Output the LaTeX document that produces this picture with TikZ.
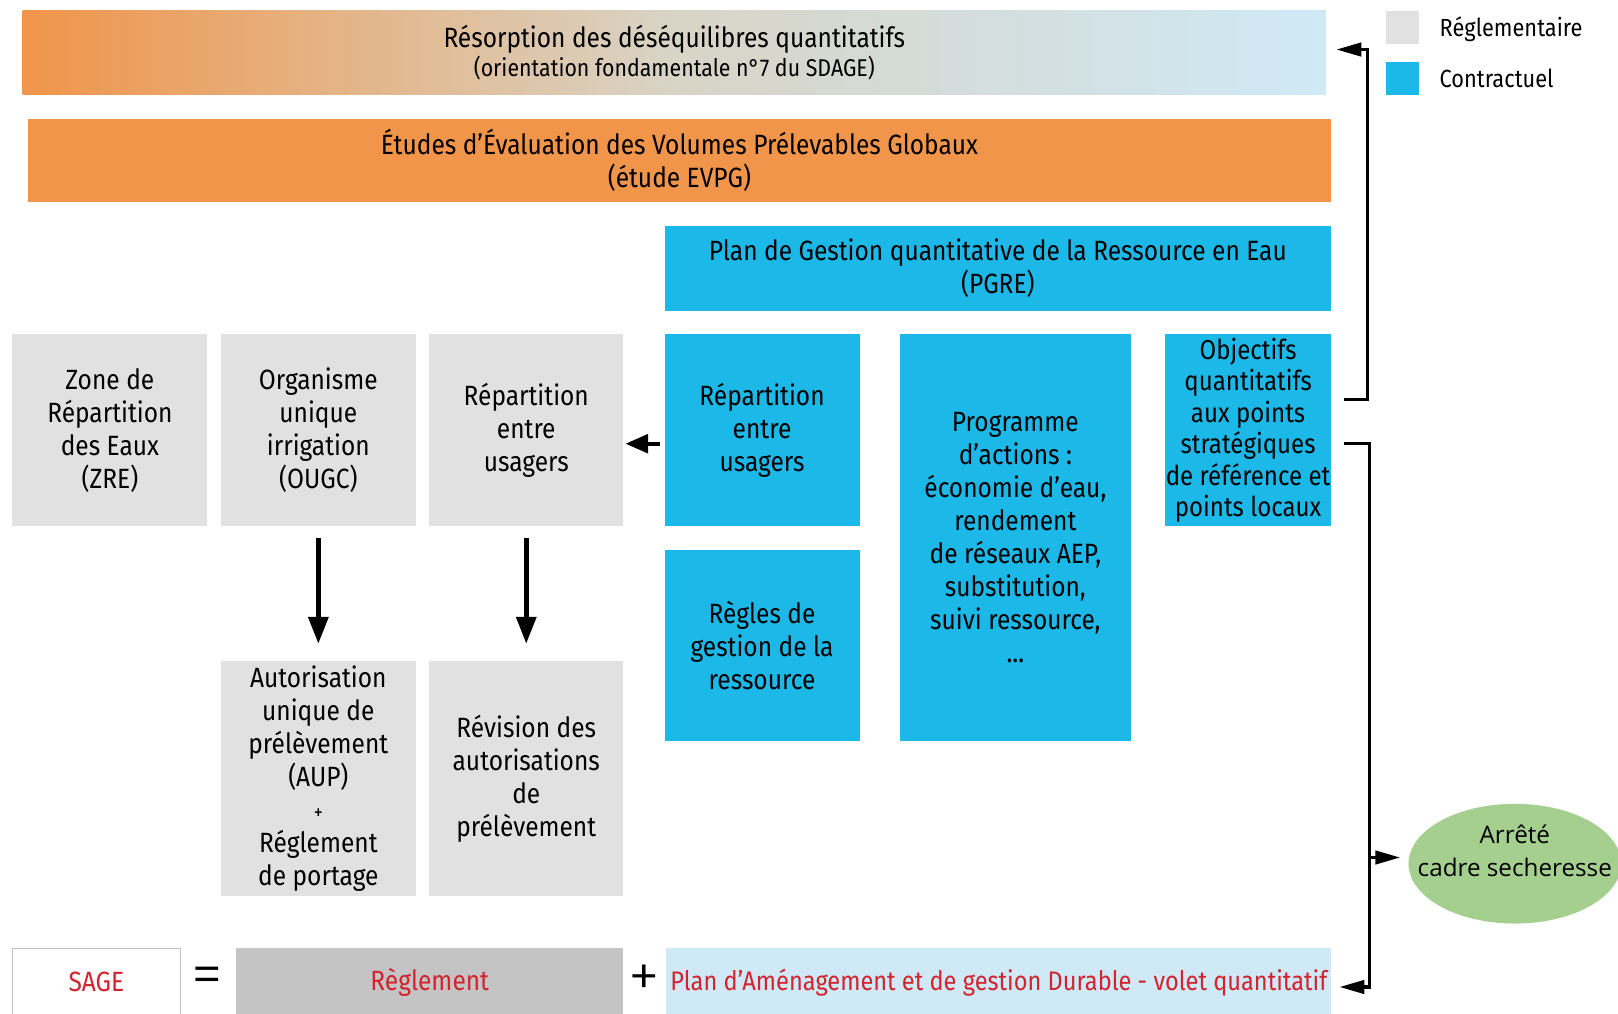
\documentclass[tikz,border=0pt]{standalone}
\usepackage{fontspec}
\setmainfont{Fira Sans}[FakeStretch=0.88]
\newfontfamily\ellfont{Open Sans}
\newfontfamily\lightfont{Fira Sans Light}
\usetikzlibrary{arrows.meta,shapes.geometric}
\definecolor{orangec}{HTML}{F0954A}
\definecolor{beigec}{HTML}{D8D4C6}
\definecolor{lbluec}{HTML}{CFE9F6}
\definecolor{greyc}{HTML}{E1E1E1}
\definecolor{bluec}{HTML}{1CB8E8}
\definecolor{reglc}{HTML}{C4C4C4}
\definecolor{greenc}{HTML}{A4CF8F}
\definecolor{redc}{HTML}{D2232E}
\newcommand{\boxfont}{\fontsize{27}{32}\selectfont}
\tikzset{
  box/.style={inner sep=0pt, align=center, font=\boxfont, text=black},
  gbox/.style={box, fill=greyc},
  bbox/.style={box, fill=bluec},
  arr/.style={line width=4.5pt, -{Triangle[width=19pt,length=26pt]}},
  brk/.style={line width=3pt},
  brkarr/.style={brk, -{Triangle[width=13pt,length=24pt]}},
  opsym/.style={font=\lightfont\fontsize{62}{62}\selectfont, inner sep=0pt},
}
\begin{document}
\begin{tikzpicture}[x=1pt,y=-1pt]
\useasboundingbox[fill=white] (0,0) rectangle (1568,982);
% top bars
\node[box, left color=orangec, right color=lbluec, middle color=beigec,
      minimum width=1263pt, minimum height=82pt] (bar1) at (653.5,51)
      {Résorption des déséquilibres quantitatifs\\[-3pt]{\fontsize{23.5}{28}\selectfont(orientation fondamentale n°7 du SDAGE)}};
\node[box, fill=orangec, minimum width=1263pt, minimum height=81pt] (bar2) at (658.5,155.5)
      {Études d’Évaluation des Volumes Prélevables Globaux\\(étude EVPG)};
\node[bbox, minimum width=646pt, minimum height=82pt] (pgre) at (967,260)
      {Plan de Gestion quantitative de la Ressource en Eau\\(PGRE)};
% grey row 1
\node[gbox, minimum width=189pt, minimum height=186pt] (zre) at (106.5,417)
      {Zone de\\Répartition\\des Eaux\\(ZRE)};
\node[gbox, minimum width=189pt, minimum height=186pt] (ougc) at (308.5,417)
      {Organisme\\unique\\irrigation\\(OUGC)};
\node[gbox, minimum width=188pt, minimum height=186pt] (rep1) at (510,417)
      {Répartition\\entre\\usagers};
% blue blocks
\node[bbox, minimum width=189pt, minimum height=186pt] (rep2) at (738.5,417)
      {Répartition\\entre\\usagers};
\node[bbox, minimum width=189pt, minimum height=185pt] (regles) at (738.5,625.5)
      {Règles de\\gestion de la\\ressource};
\node[bbox, minimum width=224pt, minimum height=394pt] (prog) at (984,521)
      {Programme\\d’actions :\\économie d’eau,\\rendement\\de réseaux AEP,\\substitution,\\suivi ressource,\\...};
\node[bbox, minimum width=161pt, minimum height=186pt, font=\fontsize{26.5}{30.5}\selectfont] (obj) at (1209.5,417)
      {Objectifs\\quantitatifs\\aux points\\stratégiques\\de référence et\\points locaux};
% grey row 2
\node[gbox, minimum width=189pt, minimum height=227pt] (aup) at (308.5,754.5)
      {Autorisation\\unique de\\prélèvement\\(AUP)\\{\fontsize{20}{32}\selectfont+}\\Réglement\\de portage};
\node[gbox, minimum width=188pt, minimum height=227pt] (rev) at (510,754.5)
      {Révision des\\autorisations\\de\\prélèvement};
% legend
\node[fill=greyc, minimum size=32pt, inner sep=0pt] (lg1) at (1359,27) {};
\node[fill=bluec, minimum size=32pt, inner sep=0pt] (lg2) at (1359,76) {};
\node[box, anchor=west, font=\fontsize{24}{28}\selectfont] (lt1) at (1395,28) {Réglementaire};
\node[box, anchor=west, font=\fontsize{24}{28}\selectfont] (lt2) at (1395,76) {Contractuel};
% ellipse
\node[ellipse, fill=greenc, minimum width=206pt, minimum height=116pt, inner sep=0pt] (arrete) at (1468,837) {};
\node[align=center, inner sep=0pt, font=\ellfont\fontsize{23.5}{32}\selectfont] (arretetxt) at (1468,825)
      {Arrêté\\cadre secheresse};
% bottom row
\node[draw=black!25, line width=1.5pt, fill=white, minimum width=163pt, minimum height=72pt,
      inner sep=0pt] (sage) at (93.5,955) {};
\node[font=\boxfont, text=redc, inner sep=0pt] (sagetxt) at (93.5,952) {SAGE};
\node[opsym] (eq) at (201,951) {=};
\node[fill=reglc, minimum width=375pt, minimum height=72pt, inner sep=0pt] (regl) at (416.5,955) {};
\node[font=\boxfont, text=redc, inner sep=0pt] (regltxt) at (416.5,952) {Règlement};
\node[opsym] (plus) at (624,951) {+};
\node[fill=lbluec, minimum width=645pt, minimum height=72pt, inner sep=0pt] (pad) at (967.5,955) {};
\node[font=\fontsize{26}{32}\selectfont, text=redc, inner sep=0pt] (padtxt) at (968,952)
      {Plan d’Aménagement et de gestion Durable - volet quantitatif};
% arrows
\draw[arr, shorten <=11pt, shorten >=17pt] (ougc.south) -- (aup.north);
\draw[arr, shorten <=11pt, shorten >=17pt] (rep1.south) -- (rev.north);
\draw[arr, line width=4pt, -{Triangle[width=18pt,length=22pt]}, shorten <=4pt, shorten >=2pt]
      ([yshift=-13pt]rep2.west) -- ([yshift=-13pt]rep1.east);
% brackets
\draw[brkarr, line join=miter] ([xshift=12pt,yshift=30pt]obj.east) -- ++(23pt,0) |- ([xshift=10pt,yshift=3pt]bar1.east);
\draw[brkarr, line join=miter] ([xshift=12pt,yshift=-13pt]obj.east) -- ++(25pt,0) coordinate (bv) |- ([xshift=8pt,yshift=-1.5pt]pad.east);
\coordinate (br) at (bv |- 0,831);
\draw[brkarr, shorten >=8pt] (br) -- (br -| arrete.west);
\end{tikzpicture}
\end{document}
